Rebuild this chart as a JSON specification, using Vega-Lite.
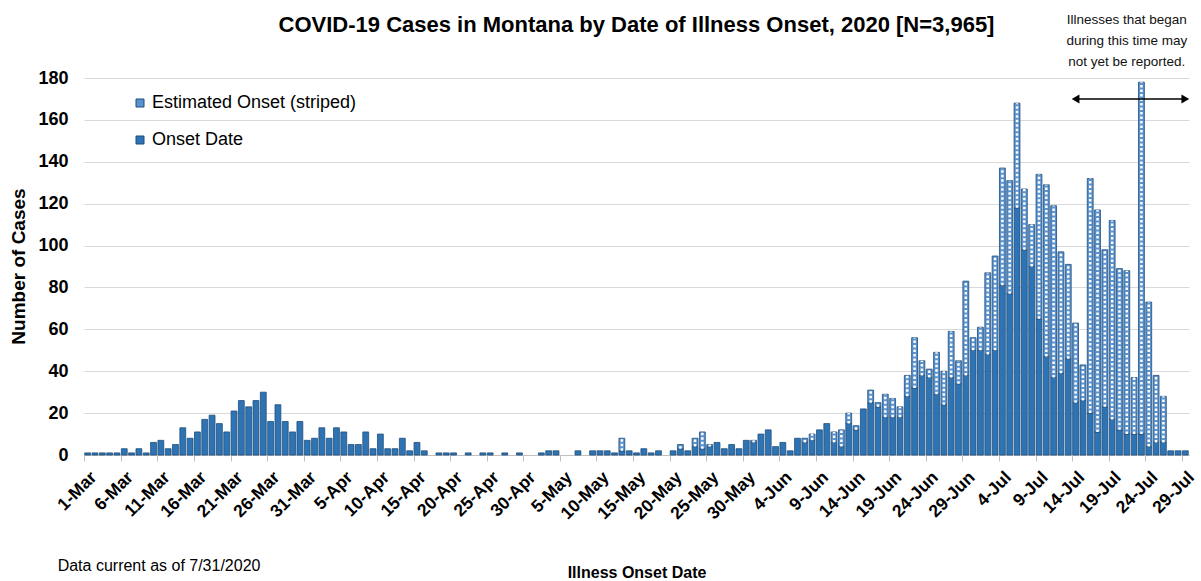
{
  "$schema": "https://vega.github.io/schema/vega-lite/v6.json",
  "width": 1105,
  "height": 377,
  "autosize": {"type": "none"},
  "padding": {"left": 84, "top": 78, "right": 12, "bottom": 126},
  "background": "white",
  "config": {
    "view": {"stroke": null},
    "font": "Liberation Sans"
  },
  "data": {
    "values": [
      {"d": "2020-03-01", "onset": 1, "est": 0},
      {"d": "2020-03-02", "onset": 1, "est": 0},
      {"d": "2020-03-03", "onset": 1, "est": 0},
      {"d": "2020-03-04", "onset": 1, "est": 0},
      {"d": "2020-03-05", "onset": 1, "est": 0},
      {"d": "2020-03-06", "onset": 3, "est": 0},
      {"d": "2020-03-07", "onset": 1, "est": 0},
      {"d": "2020-03-08", "onset": 3, "est": 0},
      {"d": "2020-03-09", "onset": 1, "est": 0},
      {"d": "2020-03-10", "onset": 6, "est": 0},
      {"d": "2020-03-11", "onset": 7, "est": 0},
      {"d": "2020-03-12", "onset": 3, "est": 0},
      {"d": "2020-03-13", "onset": 5, "est": 0},
      {"d": "2020-03-14", "onset": 13, "est": 0},
      {"d": "2020-03-15", "onset": 8, "est": 0},
      {"d": "2020-03-16", "onset": 11, "est": 0},
      {"d": "2020-03-17", "onset": 17, "est": 0},
      {"d": "2020-03-18", "onset": 19, "est": 0},
      {"d": "2020-03-19", "onset": 15, "est": 0},
      {"d": "2020-03-20", "onset": 11, "est": 0},
      {"d": "2020-03-21", "onset": 21, "est": 0},
      {"d": "2020-03-22", "onset": 26, "est": 0},
      {"d": "2020-03-23", "onset": 23, "est": 0},
      {"d": "2020-03-24", "onset": 26, "est": 0},
      {"d": "2020-03-25", "onset": 30, "est": 0},
      {"d": "2020-03-26", "onset": 16, "est": 0},
      {"d": "2020-03-27", "onset": 24, "est": 0},
      {"d": "2020-03-28", "onset": 16, "est": 0},
      {"d": "2020-03-29", "onset": 11, "est": 0},
      {"d": "2020-03-30", "onset": 16, "est": 0},
      {"d": "2020-03-31", "onset": 7, "est": 0},
      {"d": "2020-04-01", "onset": 8, "est": 0},
      {"d": "2020-04-02", "onset": 13, "est": 0},
      {"d": "2020-04-03", "onset": 8, "est": 0},
      {"d": "2020-04-04", "onset": 13, "est": 0},
      {"d": "2020-04-05", "onset": 11, "est": 0},
      {"d": "2020-04-06", "onset": 5, "est": 0},
      {"d": "2020-04-07", "onset": 5, "est": 0},
      {"d": "2020-04-08", "onset": 11, "est": 0},
      {"d": "2020-04-09", "onset": 3, "est": 0},
      {"d": "2020-04-10", "onset": 10, "est": 0},
      {"d": "2020-04-11", "onset": 3, "est": 0},
      {"d": "2020-04-12", "onset": 3, "est": 0},
      {"d": "2020-04-13", "onset": 8, "est": 0},
      {"d": "2020-04-14", "onset": 2, "est": 0},
      {"d": "2020-04-15", "onset": 6, "est": 0},
      {"d": "2020-04-16", "onset": 2, "est": 0},
      {"d": "2020-04-17", "onset": 0, "est": 0},
      {"d": "2020-04-18", "onset": 1, "est": 0},
      {"d": "2020-04-19", "onset": 1, "est": 0},
      {"d": "2020-04-20", "onset": 1, "est": 0},
      {"d": "2020-04-21", "onset": 0, "est": 0},
      {"d": "2020-04-22", "onset": 1, "est": 0},
      {"d": "2020-04-23", "onset": 0, "est": 0},
      {"d": "2020-04-24", "onset": 1, "est": 0},
      {"d": "2020-04-25", "onset": 1, "est": 0},
      {"d": "2020-04-26", "onset": 0, "est": 0},
      {"d": "2020-04-27", "onset": 1, "est": 0},
      {"d": "2020-04-28", "onset": 0, "est": 0},
      {"d": "2020-04-29", "onset": 1, "est": 0},
      {"d": "2020-04-30", "onset": 0, "est": 0},
      {"d": "2020-05-01", "onset": 0, "est": 0},
      {"d": "2020-05-02", "onset": 1, "est": 0},
      {"d": "2020-05-03", "onset": 2, "est": 0},
      {"d": "2020-05-04", "onset": 2, "est": 0},
      {"d": "2020-05-05", "onset": 0, "est": 0},
      {"d": "2020-05-06", "onset": 0, "est": 0},
      {"d": "2020-05-07", "onset": 2, "est": 0},
      {"d": "2020-05-08", "onset": 0, "est": 0},
      {"d": "2020-05-09", "onset": 2, "est": 0},
      {"d": "2020-05-10", "onset": 2, "est": 0},
      {"d": "2020-05-11", "onset": 2, "est": 0},
      {"d": "2020-05-12", "onset": 1, "est": 0},
      {"d": "2020-05-13", "onset": 2, "est": 6},
      {"d": "2020-05-14", "onset": 2, "est": 0},
      {"d": "2020-05-15", "onset": 1, "est": 0},
      {"d": "2020-05-16", "onset": 3, "est": 0},
      {"d": "2020-05-17", "onset": 1, "est": 0},
      {"d": "2020-05-18", "onset": 2, "est": 0},
      {"d": "2020-05-19", "onset": 0, "est": 0},
      {"d": "2020-05-20", "onset": 2, "est": 0},
      {"d": "2020-05-21", "onset": 3, "est": 2},
      {"d": "2020-05-22", "onset": 2, "est": 0},
      {"d": "2020-05-23", "onset": 4, "est": 4},
      {"d": "2020-05-24", "onset": 3, "est": 8},
      {"d": "2020-05-25", "onset": 4, "est": 1},
      {"d": "2020-05-26", "onset": 6, "est": 0},
      {"d": "2020-05-27", "onset": 3, "est": 0},
      {"d": "2020-05-28", "onset": 5, "est": 0},
      {"d": "2020-05-29", "onset": 3, "est": 0},
      {"d": "2020-05-30", "onset": 7, "est": 0},
      {"d": "2020-05-31", "onset": 6, "est": 1},
      {"d": "2020-06-01", "onset": 10, "est": 0},
      {"d": "2020-06-02", "onset": 12, "est": 0},
      {"d": "2020-06-03", "onset": 4, "est": 0},
      {"d": "2020-06-04", "onset": 6, "est": 0},
      {"d": "2020-06-05", "onset": 2, "est": 0},
      {"d": "2020-06-06", "onset": 8, "est": 0},
      {"d": "2020-06-07", "onset": 6, "est": 2},
      {"d": "2020-06-08", "onset": 7, "est": 3},
      {"d": "2020-06-09", "onset": 12, "est": 0},
      {"d": "2020-06-10", "onset": 15, "est": 0},
      {"d": "2020-06-11", "onset": 6, "est": 5},
      {"d": "2020-06-12", "onset": 4, "est": 8},
      {"d": "2020-06-13", "onset": 15, "est": 5},
      {"d": "2020-06-14", "onset": 12, "est": 2},
      {"d": "2020-06-15", "onset": 22, "est": 0},
      {"d": "2020-06-16", "onset": 25, "est": 6},
      {"d": "2020-06-17", "onset": 23, "est": 2},
      {"d": "2020-06-18", "onset": 18, "est": 11},
      {"d": "2020-06-19", "onset": 18, "est": 9},
      {"d": "2020-06-20", "onset": 18, "est": 5},
      {"d": "2020-06-21", "onset": 28, "est": 10},
      {"d": "2020-06-22", "onset": 32, "est": 24},
      {"d": "2020-06-23", "onset": 38, "est": 7},
      {"d": "2020-06-24", "onset": 37, "est": 4},
      {"d": "2020-06-25", "onset": 29, "est": 20},
      {"d": "2020-06-26", "onset": 24, "est": 16},
      {"d": "2020-06-27", "onset": 37, "est": 22},
      {"d": "2020-06-28", "onset": 34, "est": 11},
      {"d": "2020-06-29", "onset": 38, "est": 45},
      {"d": "2020-06-30", "onset": 50, "est": 6},
      {"d": "2020-07-01", "onset": 50, "est": 11},
      {"d": "2020-07-02", "onset": 48, "est": 39},
      {"d": "2020-07-03", "onset": 50, "est": 45},
      {"d": "2020-07-04", "onset": 81, "est": 56},
      {"d": "2020-07-05", "onset": 77, "est": 54},
      {"d": "2020-07-06", "onset": 118, "est": 50},
      {"d": "2020-07-07", "onset": 98, "est": 29},
      {"d": "2020-07-08", "onset": 90, "est": 20},
      {"d": "2020-07-09", "onset": 65, "est": 69},
      {"d": "2020-07-10", "onset": 47, "est": 82},
      {"d": "2020-07-11", "onset": 37, "est": 82},
      {"d": "2020-07-12", "onset": 39, "est": 58},
      {"d": "2020-07-13", "onset": 46, "est": 45},
      {"d": "2020-07-14", "onset": 25, "est": 38},
      {"d": "2020-07-15", "onset": 26, "est": 17},
      {"d": "2020-07-16", "onset": 20, "est": 112},
      {"d": "2020-07-17", "onset": 11, "est": 106},
      {"d": "2020-07-18", "onset": 23, "est": 75},
      {"d": "2020-07-19", "onset": 17, "est": 95},
      {"d": "2020-07-20", "onset": 12, "est": 77},
      {"d": "2020-07-21", "onset": 10, "est": 78},
      {"d": "2020-07-22", "onset": 10, "est": 27},
      {"d": "2020-07-23", "onset": 10, "est": 168},
      {"d": "2020-07-24", "onset": 4, "est": 69},
      {"d": "2020-07-25", "onset": 6, "est": 32},
      {"d": "2020-07-26", "onset": 6, "est": 22},
      {"d": "2020-07-27", "onset": 2, "est": 0},
      {"d": "2020-07-28", "onset": 2, "est": 0},
      {"d": "2020-07-29", "onset": 2, "est": 0}
    ]
  },
  "transform": [
    {"fold": ["onset", "est"], "as": ["series", "n"]},
    {"stack": "n", "groupby": ["d"], "as": ["y0", "y1"], "sort": [{"field": "series", "order": "descending"}]}
  ],
  "encoding": {
    "x": {
      "field": "d",
      "type": "ordinal",
      "scale": {"paddingInner": 0.2, "paddingOuter": 0.1},
      "axis": {
        "values": ["2020-03-01","2020-03-06","2020-03-11","2020-03-16","2020-03-21","2020-03-26","2020-03-31","2020-04-05","2020-04-10","2020-04-15","2020-04-20","2020-04-25","2020-04-30","2020-05-05","2020-05-10","2020-05-15","2020-05-20","2020-05-25","2020-05-30","2020-06-04","2020-06-09","2020-06-14","2020-06-19","2020-06-24","2020-06-29","2020-07-04","2020-07-09","2020-07-14","2020-07-19","2020-07-24","2020-07-29"],
        "labelExpr": "utcFormat(toDate(datum.value), '%-d-%b')",
        "labelAngle": -45,
        "labelFont": "Liberation Sans",
        "labelFontSize": 17.5,
        "labelFontWeight": "bold",
        "labelColor": "#000000",
        "labelPadding": 7,
        "labelOffset": 0,
        "bandPosition": 0,
        "tickSize": 6,
        "tickColor": "#bfbfbf",
        "domainColor": "#bfbfbf",
        "grid": false,
        "title": "Illness Onset Date",
        "titleFont": "Liberation Sans",
        "titleFontSize": 16,
        "titleFontWeight": "bold",
        "titleColor": "#000000",
        "titleY": 117,
        "titleBaseline": "middle"
      }
    }
  },
  "layer": [
    {
      "mark": {"type": "bar", "stroke": "#1F4E79", "strokeWidth": 0.8},
      "encoding": {
        "y": {
          "field": "y1",
          "type": "quantitative",
          "scale": {"domain": [0, 180], "nice": false},
          "axis": {
            "values": [0, 20, 40, 60, 80, 100, 120, 140, 160, 180],
            "grid": true,
            "gridColor": "#d9d9d9",
            "domain": false,
            "ticks": false,
            "labelFont": "Liberation Sans",
            "labelFontSize": 18,
            "labelFontWeight": "bold",
            "labelColor": "#000000",
            "labelPadding": 16,
            "title": "Number of Cases",
            "titleFont": "Liberation Sans",
            "titleFontSize": 19,
            "titleFontWeight": "bold",
            "titleColor": "#000000",
            "titleX": -66,
            "titleY": 188,
            "titleBaseline": "middle"
          }
        },
        "y2": {"field": "y0"},
        "color": {
          "field": "series",
          "type": "nominal",
          "scale": {"domain": ["est", "onset"], "range": ["#5A92CF", "#2E74B5"]},
          "legend": {
            "orient": "none",
            "legendX": 47,
            "legendY": 16,
            "title": null,
            "padding": 0,
            "labelExpr": "datum.value == 'est' ? 'Estimated Onset (striped)' : 'Onset Date'",
            "labelLimit": 400,
            "symbolType": "square",
            "symbolSize": 64,
            "symbolStrokeColor": "#1F4E79",
            "symbolStrokeWidth": 1,
            "labelFont": "Liberation Sans",
            "labelFontSize": 18,
            "labelColor": "#000000",
            "labelOffset": 3,
            "rowPadding": 19
          }
        },
        "strokeOpacity": {"condition": {"test": "datum.n > 0", "value": 1}, "value": 0}
      }
    },
    {
      "transform": [{"filter": "datum.series == 'est' && datum.n > 0"}],
      "mark": {"type": "rule", "color": "#ffffff", "strokeWidth": 2.5, "strokeDash": [2.5, 2]},
      "encoding": {
        "y": {"field": "y0", "type": "quantitative"},
        "y2": {"field": "y1"}
      }
    },
    {
      "data": {"values": [{}]},
      "mark": {"type": "text", "text": "COVID-19 Cases in Montana by Date of Illness Onset, 2020 [N=3,965]", "font": "Liberation Sans", "fontSize": 22, "fontWeight": "bold", "align": "center", "baseline": "middle", "color": "#000000"},
      "encoding": {
        "x": {"datum": "2020-05-15", "type": "ordinal"},
        "y": {"datum": 205.5, "type": "quantitative"}
      }
    },
    {
      "data": {"values": [{}]},
      "mark": {"type": "text", "text": ["Illnesses that began", "during this time may", "not yet be reported."], "font": "Liberation Sans", "fontSize": 13.5, "lineHeight": 21, "align": "center", "baseline": "middle", "color": "#111111"},
      "encoding": {
        "x": {"datum": "2020-07-21", "type": "ordinal"},
        "y": {"datum": 207.5, "type": "quantitative"}
      }
    },
    {
      "data": {"values": [{}]},
      "mark": {"type": "rule", "color": "#000000", "strokeWidth": 1.5},
      "encoding": {
        "x": {"datum": "2020-07-14", "type": "ordinal"},
        "x2": {"datum": "2020-07-29"},
        "y": {"datum": 170, "type": "quantitative"}
      }
    },
    {
      "data": {"values": [{}]},
      "mark": {"type": "point", "shape": "triangle-left", "filled": true, "color": "#000000", "size": 80, "opacity": 1},
      "encoding": {
        "x": {"datum": "2020-07-14", "type": "ordinal"},
        "y": {"datum": 170, "type": "quantitative"}
      }
    },
    {
      "data": {"values": [{}]},
      "mark": {"type": "point", "shape": "triangle-right", "filled": true, "color": "#000000", "size": 80, "opacity": 1},
      "encoding": {
        "x": {"datum": "2020-07-29", "type": "ordinal"},
        "y": {"datum": 170, "type": "quantitative"}
      }
    },
    {
      "data": {"values": [{}]},
      "mark": {"type": "text", "text": "Data current as of 7/31/2020", "font": "Liberation Sans", "fontSize": 16, "align": "left", "baseline": "middle", "dx": -30, "color": "#000000"},
      "encoding": {
        "x": {"datum": "2020-03-01", "type": "ordinal"},
        "y": {"datum": -53, "type": "quantitative"}
      }
    }
  ]
}
